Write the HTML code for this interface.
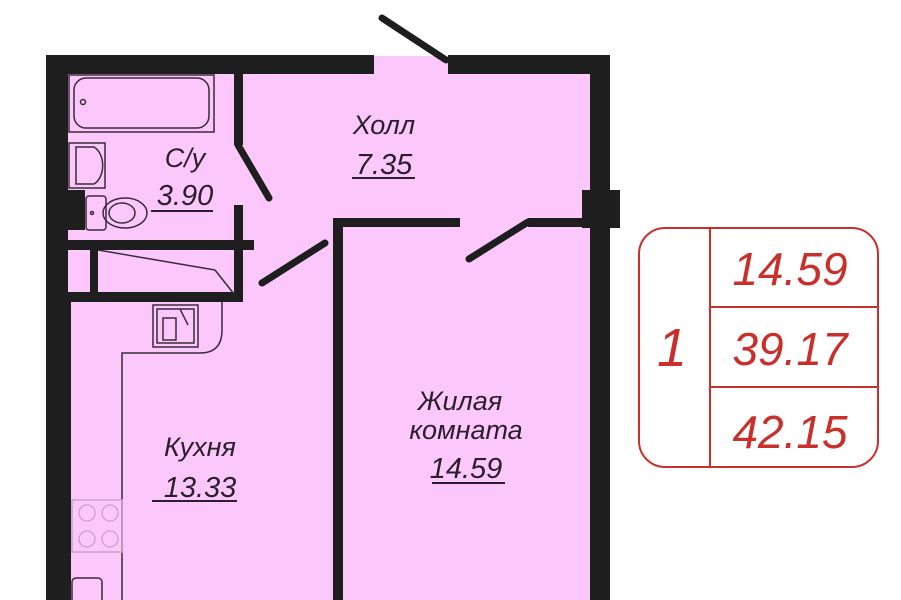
<!DOCTYPE html>
<html><head><meta charset="utf-8"><style>
html,body{margin:0;padding:0;background:#fff;width:901px;height:600px;overflow:hidden}
text{font-family:"Liberation Sans","DejaVu Sans",sans-serif;font-style:italic}
</style></head><body>
<svg width="901" height="600" viewBox="0 0 901 600" xmlns="http://www.w3.org/2000/svg">
<rect x="60" y="68" width="540" height="532" fill="#fcc8fc"/>
<rect x="374" y="56" width="74" height="20" fill="#fcc8fc"/>
<g fill="#1e1e1e">
<rect x="46" y="55" width="328" height="19"/>
<rect x="448" y="55" width="162" height="19"/>
<rect x="46" y="55" width="22" height="545"/>
<rect x="46" y="300" width="25" height="300"/>
<rect x="590" y="55" width="20" height="545"/>
<rect x="582" y="190" width="38" height="38"/>
<rect x="67" y="190" width="18" height="40"/>
<rect x="234" y="74" width="9" height="71"/>
<rect x="234" y="205" width="9" height="95"/>
<rect x="67" y="240" width="187" height="10"/>
<rect x="90" y="250" width="8" height="45"/>
<rect x="67" y="292" width="176" height="10"/>
<rect x="333" y="218" width="10" height="382"/>
<rect x="333" y="218" width="127" height="9"/>
<rect x="528" y="218" width="62" height="9"/>
</g>
<g stroke="#1e1e1e" stroke-width="7" stroke-linecap="round">
<line x1="446" y1="60" x2="382" y2="18"/>
<line x1="238" y1="145" x2="269" y2="198"/>
<line x1="528" y1="222" x2="469" y2="259"/>
<line x1="325" y1="243" x2="262" y2="283"/>
</g>
<g fill="none" stroke="#3a2a3a" stroke-width="1.5">
<rect x="69" y="75" width="145" height="57"/>
<rect x="74" y="78" width="135" height="50" rx="12"/>
<circle cx="83" cy="102" r="2.5"/>
<rect x="69" y="143" width="36" height="45"/>
<path d="M76 147 h18 a14 20 0 0 1 0 37 h-18 z"/>
<rect x="86" y="196" width="20" height="34" rx="3"/>
<ellipse cx="125" cy="213" rx="22" ry="15"/>
<ellipse cx="122" cy="213" rx="13" ry="10"/>
<circle cx="92" cy="213" r="1.5"/>
<line x1="98" y1="250" x2="215" y2="270"/>
<line x1="215" y1="270" x2="234" y2="294"/>
<rect x="153" y="305" width="45" height="42"/>
<rect x="157" y="309" width="37" height="34"/>
<rect x="163" y="318" width="13" height="22"/>
<line x1="180" y1="309" x2="188" y2="325"/>
<path d="M122 600 V353 H200 Q222 353 222 330 V302"/>
<rect x="72" y="500" width="50" height="52" stroke="#c9a0c9"/>
<rect x="72" y="578" width="30" height="30" rx="4"/>
</g>
<g fill="none" stroke="#c9a0c9" stroke-width="1.3">
<circle cx="87" cy="513" r="8"/><circle cx="110" cy="513" r="8"/>
<circle cx="87" cy="539" r="8"/><circle cx="110" cy="539" r="8"/>
</g>
<g fill="#2a1f2a" text-anchor="middle">
<text x="384" y="134" font-size="27">Холл</text>
<text x="384" y="174" font-size="29">7.35</text>
<text x="185" y="167" font-size="27">С/у</text>
<text x="185" y="205" font-size="29">3.90</text>
<text x="200" y="456" font-size="27">Кухня</text>
<text x="200" y="497" font-size="29">13.33</text>
<text x="460" y="410" font-size="27">Жилая</text>
<text x="466" y="439" font-size="27">комната</text>
<text x="466" y="478" font-size="29">14.59</text>
</g>
<g stroke="#2a1f2a" stroke-width="2">
<line x1="352" y1="178" x2="415" y2="178"/>
<line x1="151" y1="211" x2="213" y2="211"/>
<line x1="152" y1="501" x2="237" y2="501"/>
<line x1="432" y1="483" x2="505" y2="483"/>
</g>
<g fill="none" stroke="#c8302c" stroke-width="2">
<rect x="639" y="228" width="239" height="239" rx="26"/>
<line x1="710" y1="228" x2="710" y2="467"/>
<line x1="710" y1="307" x2="878" y2="307"/>
<line x1="710" y1="387" x2="878" y2="387"/>
</g>
<g fill="#c8302c" text-anchor="middle" font-size="46">
<text x="790" y="285">14.59</text>
<text x="790" y="365">39.17</text>
<text x="790" y="448">42.15</text>
<text x="672" y="366" font-size="54">1</text>
</g>
</svg>
</body></html>
